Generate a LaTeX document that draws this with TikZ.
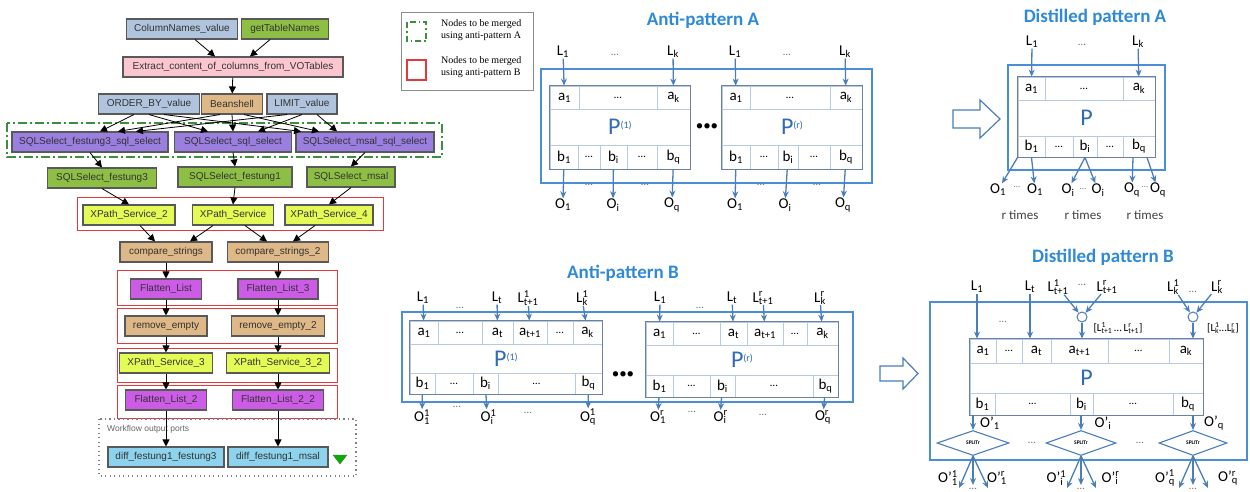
\documentclass[tikz,border=0pt]{standalone}
\usepackage{fontspec}
\setmainfont{Carlito}
\newfontfamily\wffont{Liberation Sans}
\newfontfamily\lgfont{Liberation Serif}
\usetikzlibrary{arrows,arrows.meta,positioning,calc,shapes.geometric}

\definecolor{wfblue}{HTML}{B0C4DE}
\definecolor{wfgreen}{HTML}{8EBF45}
\definecolor{wfpink}{HTML}{FBC6D0}
\definecolor{wftan}{HTML}{DEB887}
\definecolor{wfpurple}{HTML}{9A7EE0}
\definecolor{wfyellow}{HTML}{E4FB55}
\definecolor{wfmagenta}{HTML}{CC5CE6}
\definecolor{wfsky}{HTML}{8DD3EE}
\definecolor{grnA}{HTML}{3E8E3E}
\definecolor{redB}{HTML}{E5383B}
\definecolor{ttlblue}{HTML}{2E8AD8}
\definecolor{frameblue}{HTML}{4A8FD6}
\definecolor{boxgray}{HTML}{6B80A2}
\definecolor{cellc}{HTML}{B7CAE3}
\definecolor{flow}{HTML}{4A7EBB}
\definecolor{pblue}{HTML}{2F6CB5}

\newcommand{\sbsp}[3]{#1\rlap{\textsuperscript{#2}}\textsubscript{#3}}
\newcommand{\dts}{{\fontsize{11}{11}\selectfont\ldots}}
\newcommand{\psup}[1]{P\raisebox{6pt}{\fontsize{10}{10}\selectfont(#1)}}

\begin{document}
\begin{tikzpicture}[x=1pt,y=-1pt,
  wf/.style={draw=black!65,line width=1.1pt,minimum height=20pt,inner sep=1pt,
    font=\wffont\fontsize{10}{11}\selectfont,text=black!80},
  wfarr/.style={-{Triangle[length=7pt,width=7pt]},line width=0.8pt},
  mergeA/.style={draw=grnA,line width=1.3pt,dash pattern=on 9pt off 3pt on 2pt off 3pt},
  mergeB/.style={draw=redB,line width=0.9pt},
  ttl/.style={text=ttlblue,font=\bfseries\fontsize{19}{20}\selectfont},
  lab/.style={inner sep=0.5pt,font=\fontsize{15}{16}\selectfont},
  dotlab/.style={inner sep=0pt,text=black!55,font=\fontsize{11}{12}\selectfont},
  cl/.style={draw=cellc,line width=0.8pt,inner sep=0pt,font=\fontsize{15}{16}\selectfont},
  pcell/.style={cl,text=pblue,font=\fontsize{24}{24}\selectfont},
  inbox/.style={draw=boxgray,line width=1.3pt},
  outbox/.style={draw=frameblue,line width=1.6pt},
  flowarr/.style={-{Stealth[length=7pt,width=6pt]},draw=flow,line width=1.3pt},
  bigarr/.style={draw=flow,line width=1.2pt,fill=white},
  merge/.style={circle,draw=flow,line width=1pt,minimum size=10pt,inner sep=0pt},
  split/.style={diamond,draw=flow,line width=1.1pt,minimum height=25pt,inner sep=0pt,
    font=\bfseries\fontsize{5.5}{6}\selectfont}
]
\useasboundingbox (0,0) rectangle (1250,491);

% workflow
\node[wf,fill=wfblue,minimum width=111pt] (cnv) at (182,29) {ColumnNames\_value};
\node[wf,fill=wfgreen,minimum width=87pt] (gtn) at (285,29) {getTableNames};
\node[wf,fill=wfpink,minimum width=220pt] (ext) at (233,67) {Extract\_content\_of\_columns\_from\_VOTables};
\node[wf,fill=wfblue,minimum width=101pt] (ord) at (149,104) {ORDER\_BY\_value};
\node[wf,fill=wftan,minimum width=61pt] (bsh) at (232,104) {Beanshell};
\node[wf,fill=wfblue,minimum width=70pt] (lim) at (302,104) {LIMIT\_value};
\draw[mergeA] (7,123) rectangle (442,157);
\node[wf,fill=wfpurple,minimum width=156pt] (sq3) at (90,142) {SQLSelect\_festung3\_sql\_select};
\node[wf,fill=wfpurple,minimum width=117pt] (sq1) at (233,142) {SQLSelect\_sql\_select};
\node[wf,fill=wfpurple,minimum width=138pt] (sqm) at (365,142) {SQLSelect\_msal\_sql\_select};
\node[wf,fill=wfgreen,minimum width=109pt] (sf3) at (102,178) {SQLSelect\_festung3};
\node[wf,fill=wfgreen,minimum width=114pt] (sf1) at (235,177) {SQLSelect\_festung1};
\node[wf,fill=wfgreen,minimum width=88pt] (sfm) at (351,177) {SQLSelect\_msal};
\draw[mergeB] (77,197) rectangle (383,230);
\node[wf,fill=wfyellow,minimum width=92pt] (xp2) at (129,215) {XPath\_Service\_2};
\node[wf,fill=wfyellow,minimum width=81pt] (xp) at (233,215) {XPath\_Service};
\node[wf,fill=wfyellow,minimum width=88pt] (xp4) at (329,215) {XPath\_Service\_4};
\node[wf,fill=wftan,minimum width=92pt] (cs) at (166,252) {compare\_strings};
\node[wf,fill=wftan,minimum width=101pt] (cs2) at (278,252) {compare\_strings\_2};
\draw[mergeB] (117,270) rectangle (337,305);
\draw[mergeB] (117,308) rectangle (337,343);
\draw[mergeB] (117,348) rectangle (337,382);
\draw[mergeB] (117,385) rectangle (337,418);
\node[wf,fill=wfmagenta,minimum width=71pt] (fl) at (166,289) {Flatten\_List};
\node[wf,fill=wfmagenta,minimum width=80pt] (fl3) at (278,289) {Flatten\_List\_3};
\node[wf,fill=wftan,minimum width=82pt] (re) at (166,326) {remove\_empty};
\node[wf,fill=wftan,minimum width=93pt] (re2) at (278,326) {remove\_empty\_2};
\node[wf,fill=wfyellow,minimum width=93pt] (xp3) at (166,363) {XPath\_Service\_3};
\node[wf,fill=wfyellow,minimum width=103pt] (xp32) at (278,363) {XPath\_Service\_3\_2};
\node[wf,fill=wfmagenta,minimum width=81pt] (fl2) at (166,400) {Flatten\_List\_2};
\node[wf,fill=wfmagenta,minimum width=91pt] (fl22) at (278,400) {Flatten\_List\_2\_2};
\draw[black!50,line width=1.2pt,dash pattern=on 1.2pt off 3.3pt] (99,419) rectangle (356,476);
\node[anchor=west,inner sep=0pt,text=black!60,font=\wffont\fontsize{8.5}{9}\selectfont] (wop) at (107,429) {Workflow output ports};
\node[wf,fill=wfsky,minimum width=116pt] (df3) at (166,457) {diff\_festung1\_festung3};
\node[wf,fill=wfsky,minimum width=100pt] (dfm) at (278,457) {diff\_festung1\_msal};
\draw[draw=black!60,fill=green!70!black] (333,455) -- (347,455) -- (340,464) -- cycle;

\draw[wfarr] ([xshift=13pt]cnv.south) -- ([xshift=-18pt]ext.north);
\draw[wfarr] ([xshift=-15pt]gtn.south) -- ([xshift=17pt]ext.north);
\draw[wfarr] (ext) -- (bsh);
\draw[wfarr] ([xshift=-15pt]ord.south) -- ([xshift=10pt]sq3.north);
\draw[wfarr] (ord.south) -- ([xshift=-25pt]sq1.north);
\draw[wfarr] ([xshift=15pt]ord.south) -- ([xshift=-64pt]sqm.north);
\draw[wfarr] ([xshift=-12pt]bsh.south) -- ([xshift=28pt]sq3.north);
\draw[wfarr] (bsh.south) -- (sq1.north);
\draw[wfarr] ([xshift=12pt]bsh.south) -- ([xshift=-46pt]sqm.north);
\draw[wfarr] ([xshift=-15pt]lim.south) -- ([xshift=46pt]sq3.north);
\draw[wfarr] (lim.south) -- ([xshift=25pt]sq1.north);
\draw[wfarr] ([xshift=15pt]lim.south) -- ([xshift=-28pt]sqm.north);
\draw[wfarr] (sq3.south) -- (sf3.north);
\draw[wfarr] (sq1.south) -- (sf1.north);
\draw[wfarr] (sqm.south) -- (sfm.north);
\draw[wfarr] (sf3.south) -- (xp2.north);
\draw[wfarr] (sf1.south) -- (xp.north);
\draw[wfarr] (sfm.south) -- (xp4.north);
\draw[wfarr] ([xshift=11pt]xp2.south) -- ([xshift=-11pt]cs.north);
\draw[wfarr] ([xshift=-20pt]xp.south) -- ([xshift=24pt]cs.north);
\draw[wfarr] ([xshift=12pt]xp.south) -- ([xshift=-11pt]cs2.north);
\draw[wfarr] ([xshift=-14pt]xp4.south) -- ([xshift=15pt]cs2.north);
\foreach \src/\dst in {cs/fl,fl/re,re/xp3,xp3/fl2,fl2/df3,cs2/fl3,fl3/re2,re2/xp32,xp32/fl22,fl22/dfm}
  \draw[wfarr] (\src) -- (\dst);

% legend
\draw[black!45,line width=0.8pt] (401,12) rectangle (533,90);
\draw[mergeA,dash pattern=on 6pt off 3pt on 1.5pt off 3pt] (407,22) rectangle (426,41);
\draw[mergeB,line width=1.3pt] (407,60) rectangle (426,80);
\node[anchor=north west,align=left,inner sep=0pt,font=\lgfont\fontsize{10}{12}\selectfont] (lgA) at (441,19) {Nodes to be merged\\using anti-pattern A};
\node[anchor=north west,align=left,inner sep=0pt,font=\lgfont\fontsize{10}{12}\selectfont] (lgB) at (441,56) {Nodes to be merged\\using anti-pattern B};

% anti-pattern A
\node[ttl] (tA) at (703,20) {Anti-pattern A};
\draw[outbox] (541,69) rectangle (872,183);
\foreach \n/\x/\w/\txt in {pa-a1/564.5/29/a\textsubscript{1},pa-ad/618/78/\dts,pa-ak/673.5/33/a\textsubscript{k},
    qa-a1/736/28/a\textsubscript{1},qa-ad/790/80/\dts,qa-ak/846/32/a\textsubscript{k}}
  \node[cl,minimum width=\w,minimum height=23] (\n) at (\x,97.5) {\txt};
\node[pcell,minimum width=140,minimum height=36] (pa-p) at (620,127) {\psup{1}};
\node[pcell,minimum width=140,minimum height=36] (qa-p) at (792,127) {\psup{r}};
\foreach \n/\x/\w/\txt in {pa-b1/564/28/b\textsubscript{1},pa-bd1/589/22/\dts,pa-bi/613.5/27/b\textsubscript{i},pa-bd2/642/30/\dts,pa-bq/673.5/33/b\textsubscript{q},
    qa-b1/736/28/b\textsubscript{1},qa-bd1/764/28/\dts,qa-bi/788/20/b\textsubscript{i},qa-bd2/814/32/\dts,qa-bq/846/32/b\textsubscript{q}}
  \node[cl,minimum width=\w,minimum height=24] (\n) at (\x,157) {\txt};
\draw[inbox] (pa-a1.north west) rectangle (pa-bq.south east);
\draw[inbox] (qa-a1.north west) rectangle (qa-bq.south east);
\node[font=\fontsize{15}{15}\selectfont] (dotsA) at (707,127) {\textbullet\textbullet\textbullet};
\foreach \n/\x/\txt in {pa-L1/563/L\textsubscript{1},pa-Lk/673/L\textsubscript{k},qa-L1/735/L\textsubscript{1},qa-Lk/845/L\textsubscript{k}}
  \node[lab] (\n) at (\x,52) {\txt};
\foreach \n/\x/\txt in {pa-O1/563/O\textsubscript{1},pa-Oi/613/O\textsubscript{i},pa-Oq/672/O\textsubscript{q},
    qa-O1/735/O\textsubscript{1},qa-Oi/785/O\textsubscript{i},qa-Oq/843/O\textsubscript{q}}
  \node[lab] (\n) at (\x,205) {\txt};
\foreach \x/\y in {615/55,787/55,589/185,645/185,761/185,817/185}
  \node[dotlab] at (\x,\y) {\ldots};
\foreach \b in {pa,qa} {
  \draw[flowarr] (\b-L1) -- (\b-a1);
  \draw[flowarr] (\b-Lk) -- (\b-ak);
  \foreach \c in {1,i,q}
    \draw[flowarr] (\b-b\c) -- (\b-O\c);
}

% distilled A
\draw[bigarr] (953,110) -- (980,110) -- (980,100) -- (1000,119) -- (980,138) -- (980,128) -- (953,128) -- cycle;
\node[ttl] (tDA) at (1095,17) {Distilled pattern A};
\draw[outbox] (1008,65) rectangle (1165,170);
\foreach \n/\x/\w/\txt in {da-a1/1031.5/27/a\textsubscript{1},da-ad/1084/78/\dts,da-ak/1139/32/a\textsubscript{k}}
  \node[cl,minimum width=\w,minimum height=23] (\n) at (\x,88.5) {\txt};
\node[pcell,minimum width=137,minimum height=36] (da-p) at (1086.5,118) {P};
\foreach \n/\x/\w/\txt in {da-b1/1031.5/27/b\textsubscript{1},da-bd1/1059/28/\dts,da-bi/1085/24/b\textsubscript{i},da-bd2/1110/26/\dts,da-bq/1139/32/b\textsubscript{q}}
  \node[cl,minimum width=\w,minimum height=21] (\n) at (\x,146.5) {\txt};
\draw[inbox] (da-a1.north west) rectangle (da-bq.south east);
\node[lab] (da-L1) at (1032,42) {L\textsubscript{1}};
\node[lab] (da-Lk) at (1138,42) {L\textsubscript{k}};
\node[dotlab] at (1082,45) {\ldots};
\draw[flowarr] (da-L1) -- (da-a1);
\draw[flowarr] (da-Lk) -- (da-ak);
\foreach \n/\x/\txt in {da-O1a/998/O\textsubscript{1},da-O1b/1035/O\textsubscript{1},da-Oia/1068/O\textsubscript{i},
    da-Oib/1098/O\textsubscript{i},da-Oqa/1132/O\textsubscript{q},da-Oqb/1158/O\textsubscript{q}}
  \node[lab] (\n) at (\x,190) {\txt};
\foreach \x/\y in {1017/187,1083/189,1145/187}
  \node[dotlab,font=\fontsize{9}{9}\selectfont] at (\x,\y) {\ldots};
\foreach \x in {1020,1083,1145}
  \node[inner sep=0pt,text=black!75,font=\fontsize{13}{13}\selectfont] at (\x,215) {r times};
\draw[flowarr] (da-b1.south west) -- (da-O1a);
\draw[flowarr] (da-b1.south) -- (da-O1b);
\draw[flowarr] (da-bi.south) -- (da-Oia);
\draw[flowarr] (da-bi.south) -- (da-Oib);
\draw[flowarr] ([xshift=-6pt]da-bq.south) -- (da-Oqa);
\draw[flowarr] ([xshift=8pt]da-bq.south) -- (da-Oqb);

% anti-pattern B
\node[ttl] (tB) at (623,273) {Anti-pattern B};
\draw[outbox] (402,312) rectangle (853,402);
\foreach \n/\x/\w/\txt in {pb-a1/424/28/a\textsubscript{1},pb-ad1/460/44/\dts,pb-at/497.5/31/a\textsubscript{t},
    pb-au/530/34/a\textsubscript{t+1},pb-ad2/560/26/\dts,pb-ak/587.5/29/a\textsubscript{k}}
  \node[cl,minimum width=\w,minimum height=23] (\n) at (\x,332.5) {\txt};
\foreach \n/\x/\w/\txt in {qb-a1/659.5/27/a\textsubscript{1},qb-ad1/696.5/47/\dts,qb-at/733.5/27/a\textsubscript{t},
    qb-au/765/36/a\textsubscript{t+1},qb-ad2/795/24/\dts,qb-ak/822.5/31/a\textsubscript{k}}
  \node[cl,minimum width=\w,minimum height=23] (\n) at (\x,333.5) {\txt};
\node[pcell,minimum width=192,minimum height=29] (pb-p) at (506,358.5) {\psup{1}};
\node[pcell,minimum width=192,minimum height=30] (qb-p) at (742,360) {\psup{r}};
\foreach \n/\x/\w/\txt in {pb-b1/422.5/25/b\textsubscript{1},pb-bd1/454/38/\dts,pb-bi/485.5/25/b\textsubscript{i},
    pb-bd2/536.5/77/\dts,pb-bq/588.5/27/b\textsubscript{q}}
  \node[cl,minimum width=\w,minimum height=21] (\n) at (\x,383.5) {\txt};
\foreach \n/\x/\w/\txt in {qb-b1/659.5/27/b\textsubscript{1},qb-bd1/691.5/37/\dts,qb-bi/722.5/25/b\textsubscript{i},
    qb-bd2/774/78/\dts,qb-bq/825.5/25/b\textsubscript{q}}
  \node[cl,minimum width=\w,minimum height=22] (\n) at (\x,386) {\txt};
\draw[inbox] (pb-a1.north west) rectangle (pb-bq.south east);
\draw[inbox] (qb-a1.north west) rectangle (qb-bq.south east);
\node[font=\fontsize{15}{15}\selectfont] (dotsB) at (623,375) {\textbullet\textbullet\textbullet};
\foreach \n/\x/\txt in {pb-L1/423/L\textsubscript{1},pb-Lt/497/L\textsubscript{t},pb-Lu/528/\sbsp{L}{1}{t+1},pb-Lk/582/\sbsp{L}{1}{k},
    qb-L1/660/L\textsubscript{1},qb-Lt/732/L\textsubscript{t},qb-Lu/763/\sbsp{L}{r}{t+1},qb-Lk/820/\sbsp{L}{r}{k}}
  \node[lab] (\n) at (\x,298) {\txt};
\foreach \n/\x/\txt in {pb-O1/422/\sbsp{O}{1}{1},pb-Oi/487/\sbsp{O}{1}{i},pb-Oq/588/\sbsp{O}{1}{q},
    qb-O1/658/\sbsp{O}{r}{1},qb-Oi/720/\sbsp{O}{r}{i},qb-Oq/823/\sbsp{O}{r}{q}}
  \node[lab] (\n) at (\x,417) {\txt};
\foreach \x/\y in {460/308,700/308,457/407,528/413,692/412,763/415}
  \node[dotlab] at (\x,\y) {\ldots};
\foreach \b in {pb,qb} {
  \foreach \src/\dst in {L1/a1,Lt/at,Lu/au,Lk/ak}
    \draw[flowarr] (\b-\src) -- (\b-\dst);
  \foreach \c in {1,i,q}
    \draw[flowarr] (\b-b\c) -- (\b-O\c);
}

% distilled B
\draw[bigarr] (880,366) -- (903,366) -- (903,358) -- (918,373.5) -- (903,389) -- (903,381) -- (880,381) -- cycle;
\node[ttl] (tDB) at (1103,257) {Distilled pattern B};
\draw[outbox] (930,302) rectangle (1247,460);
\foreach \n/\x/\w/\txt in {db-a1/983/26/a\textsubscript{1},db-ad1/1009/26/\dts,db-at/1036.5/29/a\textsubscript{t},
    db-au/1079.5/57/a\textsubscript{t+1},db-ad2/1138.5/61/\dts,db-ak/1186/34/a\textsubscript{k}}
  \node[cl,minimum width=\w,minimum height=24] (\n) at (\x,351) {\txt};
\node[pcell,minimum width=233,minimum height=30] (db-p) at (1086.5,378) {P};
\foreach \n/\x/\w/\txt in {db-b1/982.5/25/b\textsubscript{1},db-bd1/1032.5/75/\dts,db-bi/1081.5/23/b\textsubscript{i},
    db-bd2/1133/80/\dts,db-bq/1188/30/b\textsubscript{q}}
  \node[cl,minimum width=\w,minimum height=22] (\n) at (\x,404) {\txt};
\draw[inbox] (db-a1.north west) rectangle (db-bq.south east);
\foreach \n/\x/\txt in {db-L1/977/L\textsubscript{1},db-Lt/1030/L\textsubscript{t},db-Lu1/1058/\sbsp{L}{1}{t+1},
    db-Lur/1107/\sbsp{L}{r}{t+1},db-Lk1/1173/\sbsp{L}{1}{k},db-Lkr/1217/\sbsp{L}{r}{k}}
  \node[lab] (\n) at (\x,287) {\txt};
\foreach \x/\y in {1082/285,1193/292,1003/322,1032/443,1140/443}
  \node[dotlab] at (\x,\y) {\ldots};
\node[merge] (db-m1) at (1082,317) {};
\node[merge] (db-m2) at (1193,317) {};
\node[inner sep=0pt,font=\fontsize{11}{12}\selectfont] (db-ml1) at (1118,328) {[\sbsp{L}{1}{t+1}\,\dots\,\sbsp{L}{r}{t+1}]};
\node[inner sep=0pt,font=\fontsize{11}{12}\selectfont] (db-ml2) at (1223,328) {[\sbsp{L}{1}{k}\dots\sbsp{L}{r}{k}]};
\draw[flowarr] (db-L1.south) -- (db-L1.south |- db-a1.north);
\draw[flowarr] (db-Lt.south) -- (db-Lt.south |- db-at.north);
\draw[flowarr] (db-Lu1) -- (db-m1);
\draw[flowarr] (db-Lur) -- (db-m1);
\draw[flowarr] (db-m1) -- (db-m1 |- db-au.north);
\draw[flowarr] (db-Lk1) -- (db-m2);
\draw[flowarr] (db-Lkr) -- (db-m2);
\draw[flowarr] (db-m2) -- (db-m2 |- db-ak.north);
\node[split,minimum width=72pt] (db-s1) at (973,443) {SPLITr};
\node[split,minimum width=70pt] (db-s2) at (1081,443) {SPLITr};
\node[split,minimum width=68pt] (db-s3) at (1193,443) {SPLITr};
\draw[flowarr] (db-s1 |- db-b1.south) -- (db-s1);
\draw[flowarr] (db-s2 |- db-bi.south) -- (db-s2);
\draw[flowarr] (db-s3 |- db-bq.south) -- (db-s3);
\node[lab] (db-O1) at (990,423) {O'\textsubscript{1}};
\node[lab] (db-Oi) at (1103,423) {O'\textsubscript{i}};
\node[lab] (db-Oq) at (1214,423) {O'\textsubscript{q}};
\foreach \n/\x/\txt in {db-O11/948/\sbsp{O'}{1}{1},db-O1r/997/\sbsp{O'}{r}{1},db-Oi1/1055/\sbsp{O'}{1}{i},
    db-Oir/1110/\sbsp{O'}{r}{i},db-Oq1/1165/\sbsp{O'}{1}{q},db-Oqr/1228/\sbsp{O'}{r}{q}}
  \node[lab] (\n) at (\x,478) {\txt};
\foreach \s/\x in {s1/973,s2/1081,s3/1193} {
  \coordinate (db-\s-l) at (\x-14,488);
  \coordinate (db-\s-m) at (\x,485);
  \coordinate (db-\s-r) at (\x+15,488);
  \draw[flowarr] (db-\s.south) -- (db-\s-l);
  \draw[flowarr] (db-\s.south) -- (db-\s-m);
  \draw[flowarr] (db-\s.south) -- (db-\s-r);
  \node[dotlab] at (\x,489) {\ldots};
}
\end{tikzpicture}
\end{document}
